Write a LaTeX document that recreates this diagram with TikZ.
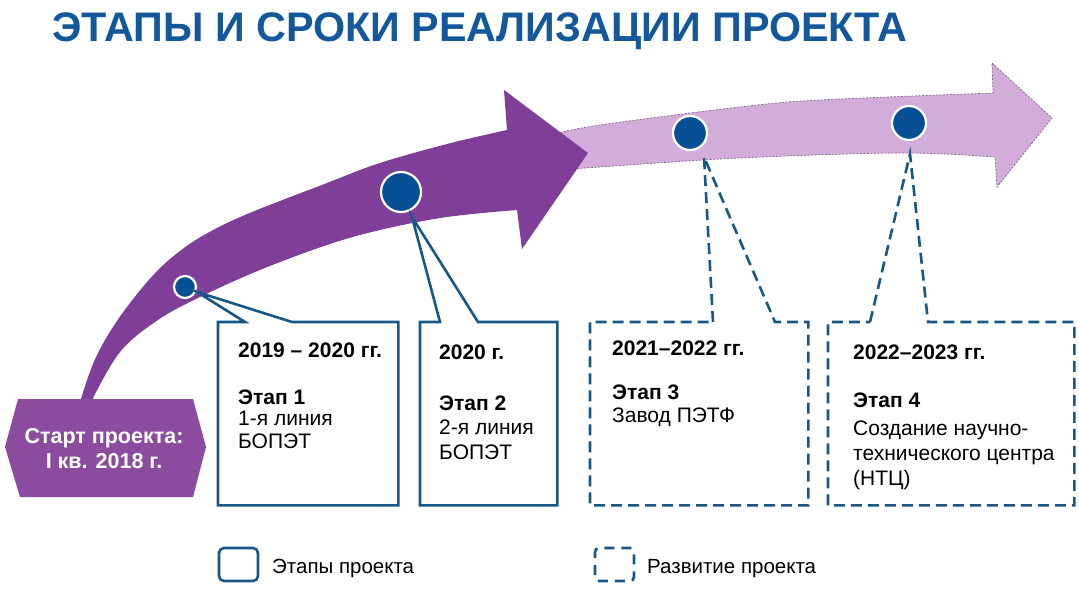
\documentclass[tikz,border=0pt]{standalone}
\usepackage{fontspec}
\setmainfont{Liberation Sans}
\usetikzlibrary{calc}
\definecolor{titleblue}{RGB}{18,88,155}
\definecolor{arrowdark}{RGB}{127,63,152}
\definecolor{hexfill}{RGB}{139,76,160}
\definecolor{arrowlight}{RGB}{211,173,218}
\definecolor{lightedge}{RGB}{130,100,140}
\definecolor{dotblue}{RGB}{8,80,150}
\definecolor{lineblue}{RGB}{24,88,135}
\begin{document}
\begin{tikzpicture}[x=1pt,y=-1pt,
  dot/.style={circle,fill=dotblue,draw=white,line width=2.2pt,inner sep=0pt},
  boxarea/.style={rectangle,inner sep=0pt,anchor=north west},
  solidline/.style={draw=lineblue,line width=2.6pt,line join=miter},
  dashline/.style={draw=lineblue,line width=2.6pt,dash pattern=on 11pt off 6pt},
  txt/.style={anchor=base west,inner sep=0pt,font=\fontsize{21}{25}\selectfont},
  btxt/.style={txt,font=\fontsize{21}{25}\selectfont\bfseries},
  legtxt/.style={anchor=base west,inner sep=0pt,font=\fontsize{20.5}{24}\selectfont}]
\useasboundingbox (0,0) rectangle (1079,591);
\fill[white] (0,0) rectangle (1079,591);

% title
\node[anchor=base west,inner sep=0pt,text=titleblue,font=\fontsize{41.3}{42}\selectfont\bfseries] (title) at (52,42) {ЭТАПЫ И СРОКИ РЕАЛИЗАЦИИ ПРОЕКТА};

% light arrow
\filldraw[fill=arrowlight,draw=lightedge,line width=0.7pt,dash pattern=on 2pt off 1.5pt]
  plot[smooth,tension=0.6] coordinates {(550,135) (600,125) (740,107) (820,100) (993,93)}
  -- (992,63) -- (1052,118) -- (997,187) -- (995,157)
  -- plot[smooth,tension=0.6] coordinates {(995,157) (900,153) (740,158) (600,167) (550,171)}
  -- cycle;

% dark arrow
\fill[arrowdark]
  plot[smooth,tension=0.6] coordinates {(80,402) (97,355) (127,307) (170,259) (227,223) (327,183) (380,163) (447,144) (507,130)}
  -- (504,90) -- (588,153) -- (522,249) -- (517,210)
  -- plot[smooth,tension=0.6] coordinates {(517,210) (447,217) (380,230) (327,245) (260,270) (200,297) (158,320) (120,352) (91,402)}
  -- cycle;

% start hexagon
\fill[hexfill] (18,399) -- (193,399) -- (206,447) -- (193,497) -- (20,497) -- (5,447) -- cycle;
\node[align=center,inner sep=0pt,text=white,font=\fontsize{21.5}{25}\selectfont\bfseries] (start) at (104,449) {Старт проекта:\\I кв. 2018 г.};

% milestones
\node[dot,minimum size=22pt] (c1) at (185,287) {};
\node[dot,minimum size=40pt] (c2) at (401,192) {};
\node[dot,minimum size=34pt] (c3) at (690,133) {};
\node[dot,minimum size=34pt] (c4) at (909,123) {};

% boxes
\node[boxarea,minimum width=180pt,minimum height=183pt] (b1) at (218,322) {};
\node[boxarea,minimum width=137pt,minimum height=183pt] (b2) at (420,322) {};
\node[boxarea,minimum width=218pt,minimum height=183pt] (b3) at (590,322) {};
\node[boxarea,minimum width=246pt,minimum height=183pt] (b4) at (828,322) {};

\draw[solidline] ($(b1.north west)+(27,0)$) -- ($(c1)+(12,5)$) -- ($(b1.north west)+(74,0)$)
  -- (b1.north east) -- (b1.south east) -- (b1.south west) -- (b1.north west) -- cycle;
\draw[solidline] ($(b2.north west)+(20,0)$) -- ($(c2)+(11,25)$) -- ($(b2.north west)+(58,0)$)
  -- (b2.north east) -- (b2.south east) -- (b2.south west) -- (b2.north west) -- cycle;
\draw[dashline] ($(b3.north west)+(123,0)$) -- ($(c3)+(14,24)$) -- ($(b3.north west)+(185,0)$)
  -- (b3.north east) -- (b3.south east) -- (b3.south west) -- (b3.north west) -- cycle;
\draw[dashline] ($(b4.north west)+(42,0)$) -- ($(c4)+(1,31)$) -- ($(b4.north west)+(100,0)$)
  -- (b4.north east) -- (b4.south east) -- (b4.south west) -- (b4.north west) -- cycle;

% box texts
\node[btxt] (b1a) at (238,357) {2019 – 2020 гг.};
\node[btxt] (b1b) at (238,404) {Этап 1};
\node[txt]  (b1c) at (238,425) {1-я линия};
\node[txt]  (b1d) at (238,448) {БОПЭТ};

\node[btxt] (b2a) at (439,359) {2020 г.};
\node[btxt] (b2b) at (439,410) {Этап 2};
\node[txt]  (b2c) at (439,434) {2-я линия};
\node[txt]  (b2d) at (439,459) {БОПЭТ};

\node[btxt] (b3a) at (612,355) {2021–2022 гг.};
\node[btxt] (b3b) at (612,399) {Этап 3};
\node[txt]  (b3c) at (612,422) {Завод ПЭТФ};

\node[btxt] (b4a) at (853,359) {2022–2023 гг.};
\node[btxt] (b4b) at (853,407) {Этап 4};
\node[txt]  (b4c) at (853,435) {Создание научно-};
\node[txt]  (b4d) at (853,460) {технического центра};
\node[txt]  (b4e) at (853,485) {(НТЦ)};

% legend
\draw[solidline,rounded corners=5pt] (219,548) rectangle (258,581);
\node[legtxt] (l1) at (272,573) {Этапы проекта};
\draw[dashline,rounded corners=4pt,dash pattern=on 10pt off 7pt,dash phase=4pt] (595,548) rectangle (634,581);
\node[legtxt] (l2) at (647,573) {Развитие проекта};
\end{tikzpicture}
\end{document}
